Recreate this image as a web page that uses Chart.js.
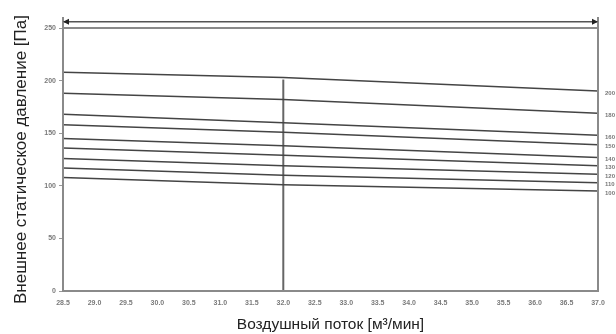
<!DOCTYPE html>
<html>
<head>
<meta charset="utf-8">
<script src="https://cdn.jsdelivr.net/npm/chart.js@4.4.0/dist/chart.umd.min.js"></script>
<style>
  html, body { margin: 0; padding: 0; background: #fff; }
  canvas { display: block; }
</style>
</head>
<body>
<canvas id="espChart" width="616" height="334"></canvas>
<script>
// Расход воздуха (м3/мин): точки, по которым сняты кривые
const airflow = [28.5, 32.0, 37.0];
// Подписи кривых справа (уставка внешнего статического давления)
const curveLabels = ['200', '180', '160', '150', '140', '130', '120', '110', '100'];
// Давление (Па) в точках airflow для каждой кривой
const pressure200 = [208, 203, 190];
const pressure180 = [188, 182, 169];
const pressure160 = [168, 160, 148];
const pressure150 = [158, 151, 139];
const pressure140 = [145, 138, 127];
const pressure130 = [136, 129, 119];
const pressure120 = [126, 119, 111];
const pressure110 = [117, 110, 103];
const pressure100 = [108, 101, 95];
// Номинальный расход и диапазон регулирования
const ratedFlow = 32.0;
const ratedLine = [0, 201];
const rangeFlow = [28.5, 37.0];
const rangeLevel = 256;

const curves = [pressure200, pressure180, pressure160, pressure150, pressure140,
                pressure130, pressure120, pressure110, pressure100];

const toPoints = (ys) => ys.map((y, i) => ({ x: airflow[i], y: y }));

const datasets = curves.map((ys, i) => ({
    label: curveLabels[i],
    data: toPoints(ys),
    borderColor: '#444',
    borderWidth: 1.5,
    pointRadius: 0,
    tension: 0
}));

// Вертикальная линия номинального расхода
datasets.push({
    label: 'rated',
    data: ratedLine.map(y => ({ x: ratedFlow, y: y })),
    borderColor: '#666',
    borderWidth: 2,
    pointRadius: 0
});

// Линия диапазона сверху (наконечники рисует плагин)
const rangeIndex = datasets.length;
datasets.push({
    label: 'range',
    data: rangeFlow.map(x => ({ x: x, y: rangeLevel })),
    borderColor: '#555',
    borderWidth: 1.5,
    pointRadius: 0,
    clip: false
});

// Рамка графика, стрелки и подписи кривых
const framePlugin = {
    id: 'frame',
    afterDatasetsDraw(chart) {
        const { ctx, chartArea: a } = chart;
        ctx.save();
        ctx.strokeStyle = '#8a8a8a';
        ctx.lineWidth = 2;
        ctx.beginPath();
        ctx.moveTo(a.left, a.top - 11);
        ctx.lineTo(a.left, a.bottom);
        ctx.lineTo(a.right, a.bottom);
        ctx.lineTo(a.right, a.top - 11);
        ctx.moveTo(a.left, a.top);
        ctx.lineTo(a.right, a.top);
        ctx.stroke();

        // наконечники стрелки диапазона
        const rng = chart.getDatasetMeta(rangeIndex).data;
        ctx.fillStyle = '#222';
        [[rng[0], 1], [rng[rng.length - 1], -1]].forEach(([p, dir]) => {
            ctx.beginPath();
            ctx.moveTo(p.x, p.y);
            ctx.lineTo(p.x + dir * 6, p.y - 3);
            ctx.lineTo(p.x + dir * 6, p.y + 3);
            ctx.closePath();
            ctx.fill();
        });

        ctx.fillStyle = '#777';
        ctx.font = 'bold 6px "Liberation Sans", Arial, sans-serif';
        ctx.textBaseline = 'middle';
        curves.forEach((ys, i) => {
            const meta = chart.getDatasetMeta(i);
            const last = meta.data[meta.data.length - 1];
            ctx.fillText(curveLabels[i], a.right + 7, last.y + 2);
        });
        ctx.restore();
    }
};

new Chart(document.getElementById('espChart'), {
    type: 'line',
    data: { datasets: datasets },
    options: {
        responsive: false,
        animation: false,
        layout: { padding: { left: 0, top: 28, right: 18, bottom: 0 } },
        plugins: {
            legend: { display: false },
            tooltip: { enabled: false }
        },
        scales: {
            x: {
                type: 'linear',
                min: 28.5,
                max: 37.0,
                grid: { display: false, drawTicks: false },
                border: { display: false },
                ticks: {
                    stepSize: 0.5,
                    autoSkip: false,
                    maxRotation: 0,
                    padding: 8,
                    color: '#7a7a7a',
                    font: { family: '"Liberation Sans", Arial, sans-serif', size: 7, weight: 'bold' },
                    callback: (v) => v.toFixed(1)
                },
                title: {
                    display: true,
                    text: 'Воздушный поток [м³/мин]',
                    color: '#222',
                    font: { family: '"Liberation Sans", Arial, sans-serif', size: 15.5 },
                    padding: { top: 4, bottom: 0 }
                },
                afterFit: (scale) => { scale.height = 43; }
            },
            y: {
                min: 0,
                max: 250,
                grid: { display: true, drawOnChartArea: false, tickLength: 4, color: '#999' },
                border: { display: false },
                ticks: {
                    stepSize: 50,
                    padding: 3,
                    color: '#7a7a7a',
                    font: { family: '"Liberation Sans", Arial, sans-serif', size: 7, weight: 'bold' }
                },
                title: {
                    display: true,
                    text: 'Внешнее статическое давление [Па]',
                    color: '#222',
                    font: { family: '"Liberation Sans", Arial, sans-serif', size: 17 },
                    padding: { top: 11, bottom: 0 }
                },
                afterFit: (scale) => { scale.width = 63; }
            }
        }
    },
    plugins: [framePlugin]
});
</script>
</body>
</html>
